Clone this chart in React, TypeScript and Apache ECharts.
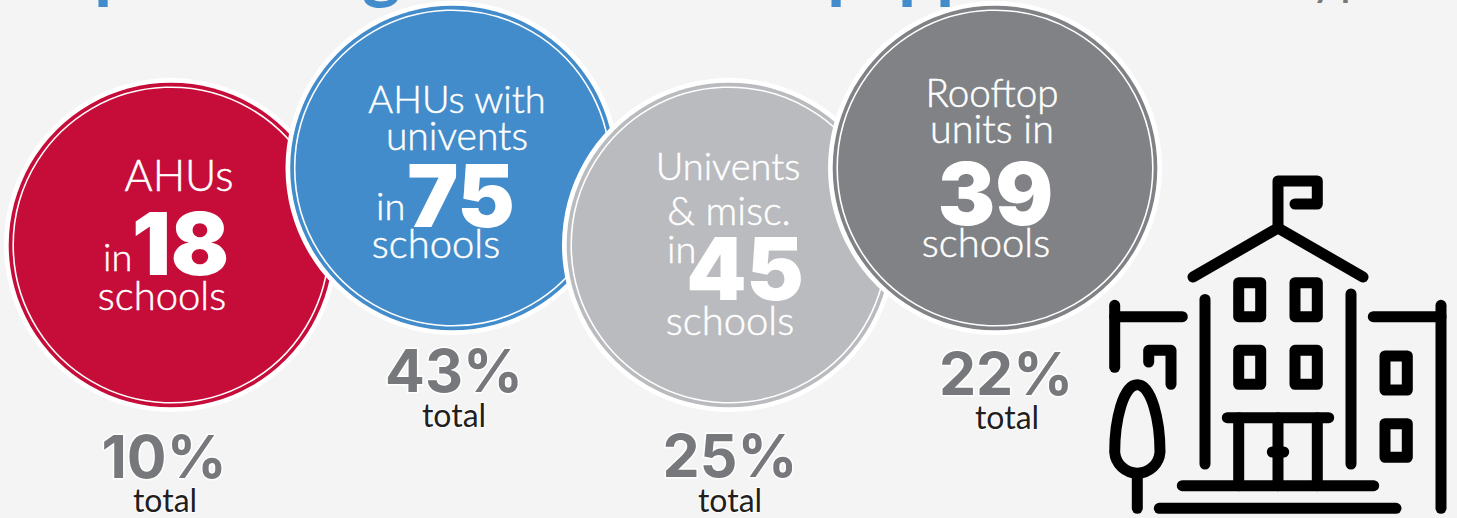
import React, { useEffect, useRef } from "react";
import * as echarts from "echarts";

// Equipment mix across the surveyed schools
const categories = ["AHUs", "AHUs with univents", "Univents & misc.", "Rooftop units"];
const schoolCounts = [18, 75, 45, 39];
const sharePercents = [10, 43, 25, 22];
const captionLines = [["AHUs"], ["AHUs with", "univents"], ["Univents", "& misc."], ["Rooftop", "units in"]];

// Layout of each badge, in the same order as the lists above
const badgeColors = ["#C60C38", "#428CCB", "#BABBBE", "#808285"];
const badgeCentres = [[171, 245], [452.5, 168], [729, 245], [995, 168]];
const captionPlaces = [[[179, 191]], [[457, 113], [457, 150]], [[728, 180], [729, 225]], [[992, 107], [992, 143]]];
const captionSizes = [[43], [38, 39], [38, 39.5], [38.6, 39.5]];
const inPlaces = [[103, 271], [376, 220], [667, 263], null];
const countPlaces = [[180.5, 275.5], [461, 227.5], [745, 300.5], [995.5, 225.5]];
const schoolsPlaces = [[162, 310], [436, 258], [730, 335], [986, 257]];
const sharePlaces = [[164, 478], [454, 392], [730, 477], [1006, 395]];
const totalPlaces = [[165, 511.5], [454, 427], [730, 511.5], [1007, 429]];

const FONT = "Lato";
const NUMERAL_FONT = "Inter";
const BACKGROUND = "#F4F4F4";
const INK = "#000000";
const ICON_WIDTH = 11;

function label(text: string, x: number, baseline: number, size: number, weight: number, fill: string, align = "center", extra: any = {}) {
  const family = extra.fontFamily ?? FONT;
  const lift = family === NUMERAL_FONT ? 0.363 : 0.387;
  return {
    type: "text",
    x,
    y: baseline - size * lift,
    silent: true,
    style: { text, fontFamily: family, fontSize: size, fontWeight: weight, fill, align, verticalAlign: "middle", ...extra },
  };
}

// A hairline of white gives the light face a little more body on the coloured discs
const captionBody = { stroke: "#FFFFFF", lineWidth: 0.5 };

function badge(i: number) {
  const [cx, cy] = badgeCentres[i];
  const colour = badgeColors[i];
  const kids: any[] = [
    { type: "circle", silent: true, shape: { cx, cy, r: 167 }, style: { fill: "#FFFFFF" } },
    { type: "circle", silent: true, shape: { cx, cy, r: 162.3 }, style: { fill: colour } },
    { type: "circle", silent: true, shape: { cx, cy, r: 157.8 }, style: { fill: "none", stroke: "#FFFFFF", lineWidth: 1.6 } },
  ];
  captionLines[i].forEach((line, n) => {
    const [x, y] = captionPlaces[i][n];
    kids.push(label(line, x, y, captionSizes[i][n], 300, "#FFFFFF", "center", captionBody));
  });
  const inAt = inPlaces[i];
  if (inAt) kids.push(label("in", inAt[0], inAt[1], 38, 300, "#FFFFFF", "left", captionBody));
  kids.push(label(String(schoolCounts[i]), countPlaces[i][0], countPlaces[i][1], 86, 900, "#FFFFFF", "center", { fontFamily: NUMERAL_FONT }));
  kids.push(label("schools", schoolsPlaces[i][0], schoolsPlaces[i][1], 40, 300, "#FFFFFF", "center", captionBody));
  return { type: "group", children: kids };
}

function shareLabels(i: number) {
  return [
    label(`${sharePercents[i]}%`, sharePlaces[i][0], sharePlaces[i][1], 59, 700, "#77787B", "center", { fontFamily: NUMERAL_FONT, stroke: "#FFFFFF", lineWidth: 3 }),
    label("total", totalPlaces[i][0], totalPlaces[i][1], 32, 400, "#231F20", "center", { stroke: "#FFFFFF", lineWidth: 2 }),
  ];
}

// Line-art school building
function strokeLine(x1: number, y1: number, x2: number, y2: number) {
  return {
    type: "line",
    silent: true,
    shape: { x1, y1, x2, y2 },
    style: { stroke: INK, lineWidth: ICON_WIDTH, lineCap: "round" },
  };
}
function strokePoly(points: number[][]) {
  return {
    type: "polyline",
    silent: true,
    shape: { points },
    style: { stroke: INK, lineWidth: ICON_WIDTH, lineCap: "round", lineJoin: "round", fill: "none" },
  };
}
function strokeBox(x: number, y: number, width: number, height: number) {
  return {
    type: "rect",
    silent: true,
    shape: { x, y, width, height },
    style: { stroke: INK, lineWidth: ICON_WIDTH, lineJoin: "round", fill: "none" },
  };
}

const treeOutline =
  "M1137.3,384.7 C1123.3,384.7 1114.7,420 1114.7,452 A22.7,22.7 0 0 0 1160,452 C1160,420 1151.3,384.7 1137.3,384.7 Z";
echarts.graphic.registerShape("treeOutline", echarts.graphic.extendPath(treeOutline, {}));

function schoolIcon() {
  return {
    type: "group",
    children: [
      strokePoly([[1278, 228], [1278, 181], [1317.3, 181], [1317.3, 204], [1295, 204]]),
      strokePoly([[1193, 277], [1278, 228], [1363, 277]]),
      strokeLine(1205, 299.5, 1205, 464),
      strokeLine(1351, 294, 1351, 464),
      strokeBox(1238.7, 282.7, 22, 34),
      strokeBox(1295, 282.7, 22.3, 34),
      strokeBox(1238.7, 350.3, 22, 34),
      strokeBox(1295, 350.3, 22.3, 34),
      strokeBox(1385, 356, 22.3, 34),
      strokeBox(1385, 423.7, 22.3, 33.6),
      strokeLine(1114.7, 305.3, 1114.7, 367.3),
      strokeLine(1114.7, 316.7, 1182.3, 316.7),
      strokeLine(1441, 305.3, 1441, 508.3),
      strokeLine(1373.3, 316.7, 1441, 316.7),
      strokePoly([[1148.7, 362], [1148.7, 350.3], [1171, 350.3], [1171, 384.3]]),
      { type: "treeOutline", silent: true, style: { stroke: INK, lineWidth: ICON_WIDTH, fill: "none" } },
      strokeLine(1137.3, 474.3, 1137.3, 508.3),
      strokeLine(1227.3, 417.7, 1328.7, 417.7),
      strokeLine(1238.7, 417.7, 1238.7, 485.7),
      strokeLine(1317.3, 417.7, 1317.3, 485.7),
      strokeLine(1278, 417.7, 1278, 485.7),
      strokeLine(1272.3, 452, 1283.7, 452),
      strokeLine(1182.3, 485.7, 1373.7, 485.7),
      strokeLine(1159.3, 508.3, 1396, 508.3),
    ],
  };
}

// Descenders of the heading and subheading, which run off the top edge
function headingTails() {
  const blue = "#428CCB";
  const grey = "#77787B";
  return [
    label("p", 94, -6, 74, 700, blue, "left"),
    label("g", 362, -6, 74, 700, blue, "left"),
    label("p", 827, -6, 74, 700, blue, "left"),
    label("p", 898, -6, 74, 700, blue, "left"),
    label("p", 936, -6, 74, 700, blue, "left"),
    label("y", 1313, -3, 36, 700, grey, "left"),
    label("p", 1341, -3, 36, 700, grey, "left"),
  ];
}

export default function App() {
  const host = useRef<HTMLDivElement>(null);
  useEffect(() => {
    document.body.style.margin = "0";
    document.body.style.background = BACKGROUND;
    const chart = echarts.init(host.current!, undefined, { renderer: "svg" });
    chart.setOption({
      animation: false,
      backgroundColor: BACKGROUND,
      title: { show: false },
      graphic: { elements: [
        ...headingTails(),
        ...categories.map((_, i) => badge(i)),
        ...categories.flatMap((_, i) => shareLabels(i)),
        schoolIcon(),
      ] },
    });
    return () => chart.dispose();
  }, []);
  return <div ref={host} style={{ width: 1457, height: 518 }} />;
}
